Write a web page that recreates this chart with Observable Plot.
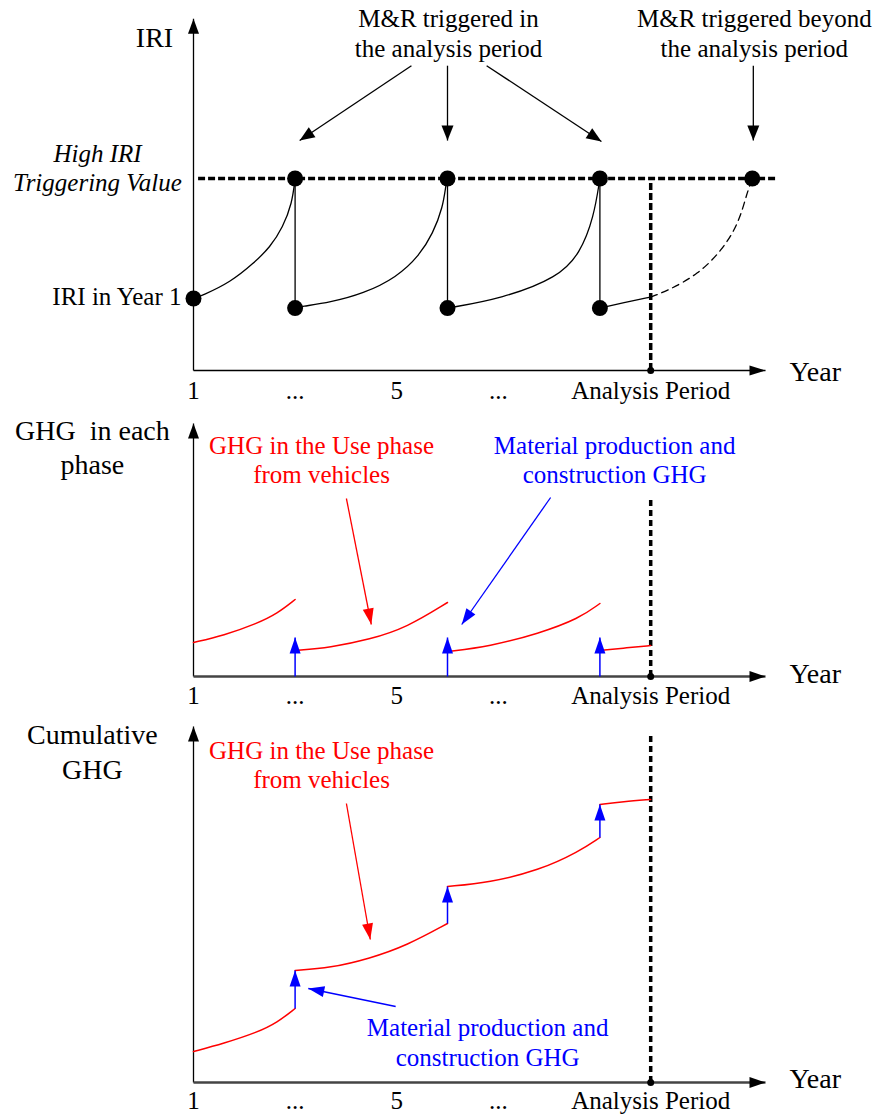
<!DOCTYPE html>
<html><head><meta charset="utf-8">
<script src="https://cdn.jsdelivr.net/npm/d3@7"></script>
<script src="https://cdn.jsdelivr.net/npm/@observablehq/plot@0.6"></script>
<style>
html,body{margin:0;padding:0;background:#fff;}
#chart svg{display:block;}
</style></head><body><div id="chart"></div>
<script>
// ================= DATA =================
const tickYears = [1, 3, 5, 7, 10];
const tickLabels = ["1", "...", "5", "...", "Analysis Period"];
const mrYears = [3, 6, 9];          // M&R triggered in the analysis period
const beyondYear = 12;              // M&R triggered beyond the analysis period
const analysisYear = 10;
const iriTrigger = 4.0;
const iriYear1 = 1.5;
const iriAfterMR = 1.3;

// IRI deterioration curves [year, IRI]
const iriCurve1 = [[1,1.5],[1.17,1.56],[1.73,1.84],[2.18,2.23],[2.51,2.57],[2.76,2.99],[2.94,3.48],[3,4.0]];
const iriCurve2 = [[3,1.3],[3.1,1.33],[3.69,1.42],[4.34,1.6],[5.0,1.94],[5.45,2.4],[5.71,2.85],[5.91,3.4],[5.97,3.89],[6,4.0]];
const iriCurve3 = [[6,1.3],[7.08,1.5],[8.18,1.94],[8.61,2.44],[8.88,3.19],[9,4.0]];
const iriCurve4Solid = [[9,1.3],[9.5,1.42],[10,1.53]];
const iriCurve4Dashed = [[10,1.53],[10.35,1.67],[10.94,2.01],[11.4,2.5],[11.73,3.06],[11.89,3.68],[12,4.0]];

// GHG in each phase: use-phase curves [year, GHG]
const ghgUse1 = [[1,3.4],[1.59,4.1],[2.25,5.3],[2.65,6.3],[3,7.7]];
const ghgUse2 = [[3,2.6],[3.69,2.9],[4.47,3.7],[5.2,4.9],[6,7.4]];
const ghgUse3 = [[6,2.5],[6.82,3.0],[7.8,4.3],[8.59,5.8],[9,7.3]];
const ghgUse4 = [[9,2.6],[9.54,2.87],[10,3.1]];
const ghgConstruction = [3.9, 3.9, 3.9];   // at mrYears

// Cumulative GHG
const cumUse1 = [[1,3.1],[1.59,3.9],[2.25,5.0],[2.65,6.0],[3,7.4]];
const cumUse2 = [[3,11.2],[3.69,11.45],[4.47,12.4],[5.2,13.7],[6,15.9]];
const cumUse3 = [[6,19.6],[6.82,20.0],[7.8,21.2],[8.59,23.1],[9,24.5]];
const cumUse4 = [[9,27.8],[9.46,28.1],[10,28.3]];
const cumConstructionFrom = [7.4, 15.9, 24.5];
const cumConstructionTo = [11.2, 19.6, 27.8];

// Texts
const iriTitle = "IRI";
const triggerLabel = "High IRI\nTriggering Value";
const year1Label = "IRI in Year 1";
const mrInLabel = "M&R triggered in\nthe analysis period";
const mrBeyondLabel = "M&R triggered beyond\nthe analysis period";
const yearLabel = "Year";
const ghgTitle = "GHG\u00a0 in each\nphase";
const cumTitle = "Cumulative\nGHG";
const useLabel = "GHG in the Use phase\nfrom vehicles";
const constructionLabel = "Material production and\nconstruction GHG";

// ================= LAYOUT / HELPERS =================
const FONT = "'Liberation Serif', 'Times New Roman', serif";
const RED = "#ff0000", BLUE = "#0000ff", BLACK = "#000000";
const X = {domain: [1, 13], range: [193, 802.6]};
const Y1 = {domain: [0, 8], range: [370, -14]};
const Y2 = {domain: [0, 27.6], range: [276, 0]};
const Y3 = {domain: [0, 36.2], range: [362, 0]};
const CURVE = "basis";

function rotator(yCfg) {
  const sx = d3.scaleLinear(X.domain, X.range), sy = d3.scaleLinear(yCfg.domain, yCfg.range);
  return d => {
    const dx = sx(d.x2) - sx(d.x1), dy = sy(d.y2) - sy(d.y1);
    return Math.atan2(dx, -dy) * 180 / Math.PI;
  };
}
function arrows(data, yCfg, o) {
  return [
    Plot.link(data, {x1: "x1", y1: "y1", x2: "x2", y2: "y2", stroke: o.color, strokeWidth: o.width ?? 1.3}),
    Plot.vector(data, {x: "x2", y: "y2", rotate: rotator(yCfg), length: o.len ?? 15, r: o.r ?? 5.5,
      anchor: "end", shape: "spike", fill: o.head ?? o.color, stroke: "none"})
  ];
}
function rows(curves) {
  return curves.flatMap((c, i) => c.map(([x, y]) => ({seg: i, x, y})));
}
function label(text, x, y, o = {}) {
  return Plot.text([text], {x: () => x, y: () => y, text: d => d, lineAnchor: "bottom",
    textAnchor: o.anchor ?? "middle", fontSize: o.size ?? 25, lineHeight: o.lh ?? 1.2,
    fontFamily: FONT, fontStyle: o.italic ? "italic" : "normal", fill: o.color ?? BLACK});
}
function ticks(y) {
  return Plot.text(tickYears, {x: d => d, y: () => y, text: (d, i) => tickLabels[i],
    lineAnchor: "bottom", textAnchor: "middle", fontSize: 25, fontFamily: FONT, fill: BLACK});
}
function plot(height, yCfg, marks) {
  return Plot.plot({
    width: 873, height, margin: 0,
    x: {...X, axis: null}, y: {...yCfg, axis: null},
    style: {background: "#fff", overflow: "visible", fontFamily: FONT},
    marks
  });
}

// ================= PANEL 1: IRI =================
const p1 = plot(400, Y1, [
  ...arrows([{x1: 1, y1: 0, x2: 1, y2: 7.33}], Y1, {color: BLACK, width: 1.3, len: 15, r: 5.5}),
  ...arrows([{x1: 1, y1: 0, x2: 12.26, y2: 0}], Y1, {color: BLACK, width: 1.3, len: 16, r: 5}),
  Plot.ruleY([iriTrigger], {x1: 1.1, x2: 12.48, stroke: BLACK, strokeWidth: 3.5, strokeDasharray: "7,3"}),
  Plot.ruleX([analysisYear], {y1: 0, y2: iriTrigger, stroke: BLACK, strokeWidth: 3.5, strokeDasharray: "7,3"}),
  Plot.line(rows([iriCurve1, iriCurve2, iriCurve3, iriCurve4Solid]), {x: "x", y: "y", z: "seg", curve: CURVE, stroke: BLACK, strokeWidth: 1.3}),
  Plot.line(iriCurve4Dashed, {x: d => d[0], y: d => d[1], curve: CURVE, stroke: BLACK, strokeWidth: 1.3, strokeDasharray: "7,5"}),
  Plot.ruleX(mrYears, {y1: iriAfterMR, y2: iriTrigger, stroke: BLACK, strokeWidth: 1.3}),
  Plot.dot([...mrYears, beyondYear], {x: d => d, y: () => iriTrigger, r: 8, fill: BLACK}),
  Plot.dot(mrYears, {x: d => d, y: () => iriAfterMR, r: 8, fill: BLACK}),
  Plot.dot([1], {x: d => d, y: () => iriYear1, r: 8, fill: BLACK}),
  Plot.dot([analysisYear], {x: d => d, y: () => 0, r: 3.5, fill: BLACK}),
  ...arrows([
    {x1: 5.29, y1: 6.35, x2: 3.09, y2: 4.79},
    {x1: 6.0, y1: 6.35, x2: 6.0, y2: 4.79},
    {x1: 6.77, y1: 6.35, x2: 9.03, y2: 4.77},
    {x1: 12.02, y1: 6.35, x2: 12.02, y2: 4.79}
  ], Y1, {color: BLACK, width: 1.3, len: 15, r: 6}),
  label(iriTitle, 0.232, 6.73, {size: 28}),
  label(mrInLabel, 6.02, 6.53),
  label(mrBeyondLabel, 12.04, 6.53),
  label(triggerLabel, -0.89, 3.73, {italic: true, lh: 1.16}),
  label(year1Label, 0.764, 1.36, {anchor: "end"}),
  label(yearLabel, 12.73, -0.21, {anchor: "start", size: 28}),
  ticks(-0.60)
]);

// ================= PANEL 2: GHG in each phase =================
const p2 = plot(320, Y2, [
  Plot.ruleX([analysisYear], {y1: 0, y2: 17.9, stroke: BLACK, strokeWidth: 3.5, strokeDasharray: "6,4"}),
  ...arrows([{x1: 1, y1: 0, x2: 1, y2: 25.3}], Y2, {color: BLACK, width: 1.3, len: 15, r: 5.5}),
  ...arrows([{x1: 1, y1: 0, x2: 12.26, y2: 0}], Y2, {color: "#444", head: BLACK, width: 2.7, len: 16, r: 5.5}),
  Plot.line(rows([ghgUse1, ghgUse2, ghgUse3, ghgUse4]), {x: "x", y: "y", z: "seg", curve: CURVE, stroke: RED, strokeWidth: 1.5}),
  ...arrows(mrYears.map((yr, i) => ({x1: yr, y1: 0, x2: yr, y2: ghgConstruction[i]})), Y2, {color: BLUE, width: 1.5, len: 16, r: 5.5}),
  Plot.dot([analysisYear], {x: d => d, y: () => 0, r: 3.5, fill: BLACK}),
  ...arrows([{x1: 4.01, y1: 17.8, x2: 4.5, y2: 5.2}], Y2, {color: RED, width: 1.3, len: 16, r: 5.5}),
  ...arrows([{x1: 8.03, y1: 17.9, x2: 6.28, y2: 5.2}], Y2, {color: BLUE, width: 1.3, len: 16, r: 5.5}),
  label(ghgTitle, -0.99, 20.3, {size: 28, lh: 1.18}),
  label(useLabel, 3.52, 19.4, {color: RED, lh: 1.16}),
  label(constructionLabel, 9.29, 19.4, {color: BLUE, lh: 1.16}),
  label(yearLabel, 12.73, -0.6, {anchor: "start", size: 28}),
  ticks(-2.7)
]);

// ================= PANEL 3: Cumulative GHG =================
const p3 = plot(396, Y3, [
  Plot.ruleX([analysisYear], {y1: 0, y2: 35, stroke: BLACK, strokeWidth: 3.5, strokeDasharray: "6,4"}),
  ...arrows([{x1: 1, y1: 0, x2: 1, y2: 35.6}], Y3, {color: BLACK, width: 1.3, len: 15, r: 5.5}),
  ...arrows([{x1: 1, y1: 0, x2: 12.26, y2: 0}], Y3, {color: "#444", head: BLACK, width: 2.7, len: 16, r: 5.5}),
  Plot.line(rows([cumUse1, cumUse2, cumUse3, cumUse4]), {x: "x", y: "y", z: "seg", curve: CURVE, stroke: RED, strokeWidth: 1.5}),
  ...arrows(mrYears.map((yr, i) => ({x1: yr, y1: cumConstructionFrom[i], x2: yr, y2: cumConstructionTo[i]})), Y3, {color: BLUE, width: 1.5, len: 16, r: 5.5}),
  Plot.dot([analysisYear], {x: d => d, y: () => 0, r: 3.5, fill: BLACK}),
  ...arrows([{x1: 4.01, y1: 27.9, x2: 4.48, y2: 14.3}], Y3, {color: RED, width: 1.3, len: 16, r: 5.5}),
  ...arrows([{x1: 4.98, y1: 7.6, x2: 3.26, y2: 9.4}], Y3, {color: BLUE, width: 1.5, len: 16, r: 5.5}),
  label(cumTitle, -0.99, 30.4, {size: 28, lh: 1.25}),
  label(useLabel, 3.52, 29.5, {color: RED, lh: 1.16}),
  label(constructionLabel, 6.79, 1.7, {color: BLUE, lh: 1.2}),
  label(yearLabel, 12.73, -0.5, {anchor: "start", size: 28}),
  ticks(-2.6)
]);

const root = document.getElementById("chart");
root.append(p1, p2, p3);
</script></body></html>
